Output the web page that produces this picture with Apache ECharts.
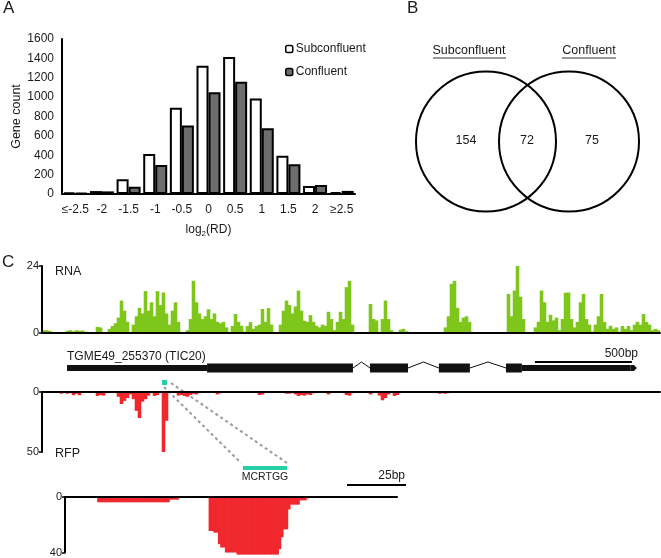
<!DOCTYPE html>
<html><head><meta charset="utf-8">
<script src="https://cdn.jsdelivr.net/npm/echarts@6/dist/echarts.min.js"></script>
<style>html,body{margin:0;padding:0;background:#fff}#c{width:661px;height:558px}</style>
</head><body><div id="c"></div>
<script>
// ---------- Panel A data ----------
const catsA = ['≤-2.5','-2','-1.5','-1','-0.5','0','0.5','1','1.5','2','≥2.5'];
const subconfluent = [15, 30, 152, 412, 890, 1325, 1415, 985, 395, 83, 20];
const confluent = [10, 27, 76, 299, 708, 1050, 1160, 678, 306, 92, 32];
const yTicksA = [0, 1600, 200];

// ---------- Panel B data ----------
const vennSets = ['Subconfluent', 'Confluent'];
const vennCounts = [154, 72, 75]; // only A, both, only B

// ---------- Panel C data ----------
const rnaCoverage = [
 1.0,1.0,0.8,0,0,0,0,0,0.8,1.0,
 0.6,1.0,0.8,0.9,0.5,0,0,0,2.2,2.0,
 0,0,1.5,2.5,3.5,5.5,11.6,8,4,0,
 3,6,9,7,15,8,11,6,15,10,
 14.5,7,3,8,11,4,0.3,0,1,5,
 18.7,11,7,5,6,8.5,5,7,4,3.5,
 4,2,0.3,2.5,6.8,4,2.6,0.5,2.5,3.9,
 1.5,2.5,3,8.6,4,8.9,3,0,0,3,
 8,11.6,10,7,9.5,15.2,8,4.4,4,6.4,
 4,2.6,2,3,2.6,7.6,5,1,4,7.6,
 5,16.4,18.7,3,0,0,0,0,0,10.4,
 5,4.5,0,5,11.6,5,1,0,0,1.2,
 1.5,0.6,0,0,0,0,0,0,0,0,
 0,0,0,0,2,6,17.6,18.7,9,4,
 5.5,6,4,0,0,0,0,0,0,0,
 0,0,0,0,0,14,6,15.2,24,13,
 5,0,0,0,2,4,15.2,11,4,6.5,
 4.5,5.5,1,5,14.4,14.5,5,2,4,11,
 14,5,3,0.5,3,6,14,4,1.5,2.6,
 1.5,2,0.5,2.5,1.5,2.5,1,3,4,3,
 6.8,4,3,1,1.5,1
];
const rfpCoverage = [
 0,0,0,0,0,0,1.4,0.8,1.4,0,
 2.7,1.5,2.7,0,0.8,0,0,0,3.3,2.5,
 3,1,0.5,0,0,4,10,7.4,5,2,
 6,15.7,21.7,8,6,3,0,3.3,2.5,0,
 50,24,0,0,0,3,2.5,3.3,4,2.5,
 1.5,2,0,0,0,0,0,0,2,1,
 0,0,0,0,0,0,0,0,0,0,
 0,0,2.5,2,0.5,0,0,0,0,0,
 0,1.4,1.4,0,2,3.3,2.5,3,2,2.5,
 1,0,0,0,0,2,0,0,0,0,
 0,2.5,3,1,0,0,0,0,0,2,
 0,0,3,6.9,5,2,0,3.3,2.5,0,
 0,0,0,0,0,0,0,0,0,0,
 0,0,1.4,1,1.4,1,0,0,0.8,0.5,
 0,0,0,0,0,0,0,0,0,0,
 0,0,0,0,0,0,0,0,0,0,
 0,0,0,0,0,0,0,0,0,0,
 0,0,0,0,0,0,0,0,0,0,
 0,0,0,0,0,0,0,0,0,0,
 0,0,0,0,0,0,0,0,0,0,
 0,0,0,0,0,0
];
const rfpZoom = [
 0,0,0,0,0,0,0,0,0,0,
 0,0,0,0,3.8,3.8,3.8,3.8,3.8,3.8,
 3.8,3.8,3.8,3.8,3.8,3.8,3.8,3.8,3.8,3.8,
 3.8,3.8,3.8,3.8,3.8,3.8,3.8,3.8,3.8,3.8,
 3.8,3.8,3.8,3.8,3.8,1.9,1.9,1.9,1.9,0,
 0,0,0,0,0,0,0,0,0,0,
 0,0,24.5,24.5,25.7,25.7,34,36.4,36.4,40,
 40,40,40,40,41.5,41.5,41.5,41.5,41.5,41.5,
 41.5,41.5,41.5,41.5,41.5,41.5,41.5,41.5,41.5,41.5,
 41.5,41.5,37.6,29,23.3,23.3,9,5.5,5.5,5.5,
 5.5,2.4,2.4,2.4,1,0,0,0,0,0,
 0,0,0,0,0,0,0,0,0,0,
 0,0,0,0,0,0,0,0,0,0,
 0,0,0,0,0,0,0,0,0,0,
 0,0,0
];
// gene model (bp, track spans 0..3186 bp)
const trackLengthBp = 3186;
const geneUTR = [[129, 851], [2474, 3035]];
const geneCDS = [[851, 1603], [1691, 1887], [2046, 2206], [2392, 2474]];
const geneTip = [3035, 3067];
const scaleBar500 = [2541, 3041];
const geneName = 'TGME49_255370 (TIC20)';
const motifName = 'MCRTGG';

const FONT = '"Liberation Sans", Arial, sans-serif';
const TXT = '#1a1a1a';
const GREEN = '#7fc61c';
const RED = '#f0282d';
const TEAL = '#27cfa6';

const idx = n => Array.from({length: n}, (_, i) => String(i));

// gene items: [start, end, kind]
const geneItems = [];
geneUTR.forEach(d => geneItems.push([d[0], d[1], 0]));
geneCDS.forEach(d => geneItems.push([d[0], d[1], 1]));
for (let i = 0; i < geneCDS.length - 1; i++) geneItems.push([geneCDS[i][1], geneCDS[i + 1][0], 2]);
geneItems.push([geneTip[0], geneTip[1], 3]);
geneItems.push([scaleBar500[0], scaleBar500[1], 4]);

const chart = echarts.init(document.getElementById('c'), null, {renderer: 'canvas'});

const blackLine = {show: true, lineStyle: {color: '#000', width: 2}};
const trackY = (max) => ({
  type: 'value', min: 0, max: max, interval: max,
  axisLine: {show: true, onZero: false, lineStyle: {color: '#000', width: 2}},
  axisTick: {show: true, length: 3, lineStyle: {color: '#000', width: 1.5}},
  axisLabel: {fontSize: 11, color: TXT, margin: 3, fontFamily: FONT},
  splitLine: {show: false}, z: 10
});
const trackX = (n, pos) => ({
  type: 'category', position: pos, data: idx(n), z: 10,
  axisLine: {show: true, onZero: false, lineStyle: {color: '#000', width: 2}},
  axisTick: {show: false}, axisLabel: {show: false}
});

const vennText = {fontSize: 12.5, fill: TXT, fontFamily: FONT};

chart.setOption({
  animation: false,
  backgroundColor: '#fff',
  textStyle: {fontFamily: FONT},
  grid: [
    {left: 62, top: 39, width: 293, height: 155},
    {left: 42, top: 266, width: 618, height: 67},
    {left: 42, top: 358, width: 618, height: 20},
    {left: 42, top: 392, width: 618, height: 60},
    {left: 65, top: 497, width: 332, height: 56}
  ],
  legend: {
    data: ['Subconfluent', 'Confluent'],
    orient: 'vertical', left: 285, top: 43, padding: 0,
    itemWidth: 7, itemHeight: 7, itemGap: 11,
    textStyle: {fontSize: 12, color: TXT, fontFamily: FONT, padding: [0, 0, 0, -2]},
    itemStyle: {borderColor: '#000', borderWidth: 1.5}
  },
  xAxis: [
    {type: 'category', gridIndex: 0, data: catsA,
     axisLine: blackLine, axisTick: {show: false},
     axisLabel: {fontSize: 12, color: TXT, margin: 10, fontFamily: FONT, interval: 0},
     name: '{a|log}{s|2}{a|(RD)}', nameLocation: 'middle', nameGap: 30,
     nameTextStyle: {rich: {
       a: {fontSize: 12, color: TXT, fontFamily: FONT, lineHeight: 14, verticalAlign: 'top'},
       s: {fontSize: 8, color: TXT, fontFamily: FONT, lineHeight: 8, verticalAlign: 'bottom'}
     }}},
    Object.assign({gridIndex: 1}, trackX(rnaCoverage.length, 'bottom')),
    {type: 'value', gridIndex: 2, min: 0, max: trackLengthBp, show: false},
    Object.assign({gridIndex: 3}, trackX(rfpCoverage.length, 'top')),
    Object.assign({gridIndex: 4}, trackX(rfpZoom.length, 'top'))
  ],
  yAxis: [
    {type: 'value', gridIndex: 0, min: yTicksA[0], max: yTicksA[1], interval: yTicksA[2],
     axisLine: blackLine, axisTick: {show: false}, splitLine: {show: false},
     axisLabel: {fontSize: 12, color: TXT, margin: 8, fontFamily: FONT, formatter: v => String(v)},
     name: 'Gene count', nameLocation: 'middle', nameGap: 35,
     nameTextStyle: {fontSize: 12.5, color: TXT, fontFamily: FONT}},
    Object.assign({gridIndex: 1}, trackY(24)),
    {type: 'value', gridIndex: 2, min: 0, max: 1, show: false},
    Object.assign({gridIndex: 3, inverse: true}, trackY(50)),
    Object.assign({gridIndex: 4, inverse: true}, trackY(40))
  ],
  series: [
    {type: 'bar', name: 'Subconfluent', xAxisIndex: 0, yAxisIndex: 0, data: subconfluent,
     barWidth: 12, barGap: '0%',
     itemStyle: {color: '#ffffff', borderColor: '#000', borderWidth: 2}},
    {type: 'bar', name: 'Confluent', xAxisIndex: 0, yAxisIndex: 0, data: confluent,
     barWidth: 12, barGap: '0%',
     itemStyle: {color: '#6d6d6d', borderColor: '#000', borderWidth: 2}},
    {type: 'bar', name: 'RNA', xAxisIndex: 1, yAxisIndex: 1, data: rnaCoverage,
     barWidth: 3.6, itemStyle: {color: GREEN}, z: 1},
    {type: 'custom', name: 'gene', xAxisIndex: 2, yAxisIndex: 2, data: geneItems,
     renderItem: function (params, api) {
       const kind = api.value(2);
       const s = api.coord([api.value(0), 0.5]);
       const e = api.coord([api.value(1), 0.5]);
       const y = s[1];
       if (kind === 0) return {type: 'rect', shape: {x: s[0], y: y - 3, width: e[0] - s[0], height: 6}, style: {fill: '#111'}};
       if (kind === 1) return {type: 'rect', shape: {x: s[0], y: y - 4.5, width: e[0] - s[0], height: 9}, style: {fill: '#111'}};
       if (kind === 2) return {type: 'polyline', shape: {points: [[s[0], y], [(s[0] + e[0]) / 2, y - 6], [e[0], y]]}, style: {stroke: '#111', lineWidth: 1, fill: null}};
       if (kind === 3) return {type: 'polygon', shape: {points: [[s[0], y - 3], [e[0] - 3, y - 3], [e[0], y], [e[0] - 3, y + 3], [s[0], y + 3]]}, style: {fill: '#111'}};
       const sb = api.coord([api.value(0), 0.8]);
       const eb = api.coord([api.value(1), 0.8]);
       return {type: 'line', shape: {x1: sb[0], y1: sb[1], x2: eb[0], y2: eb[1]}, style: {stroke: '#000', lineWidth: 2}};
     }},
    {type: 'bar', name: 'RFP', xAxisIndex: 3, yAxisIndex: 3, data: rfpCoverage,
     barWidth: 3.6, itemStyle: {color: RED}, z: 1},
    {type: 'bar', name: 'RFP zoom', xAxisIndex: 4, yAxisIndex: 4, data: rfpZoom,
     barWidth: 3, clip: false, itemStyle: {color: RED}, z: 1}
  ],
  graphic: [
    {type: 'text', left: 3, top: 0, style: {text: 'A', fontSize: 17, fill: TXT, fontFamily: FONT}},
    {type: 'text', left: 407, top: 0, style: {text: 'B', fontSize: 17, fill: TXT, fontFamily: FONT}},
    {type: 'text', left: 2, top: 254, style: {text: 'C', fontSize: 17, fill: TXT, fontFamily: FONT}},
    // Venn
    {type: 'circle', shape: {cx: 486, cy: 141.5, r: 70}, style: {fill: 'none', stroke: '#000', lineWidth: 2}},
    {type: 'circle', shape: {cx: 569, cy: 141.5, r: 70}, style: {fill: 'none', stroke: '#000', lineWidth: 2}},
    {type: 'text', x: 469, y: 51, style: Object.assign({text: vennSets[0], align: 'center', verticalAlign: 'middle'}, vennText)},
    {type: 'line', shape: {x1: 433, y1: 58, x2: 506, y2: 58}, style: {stroke: '#333', lineWidth: 1}},
    {type: 'text', x: 589, y: 51, style: Object.assign({text: vennSets[1], align: 'center', verticalAlign: 'middle'}, vennText)},
    {type: 'line', shape: {x1: 562, y1: 58, x2: 616, y2: 58}, style: {stroke: '#333', lineWidth: 1}},
    {type: 'text', x: 466, y: 141, style: Object.assign({text: String(vennCounts[0]), align: 'center', verticalAlign: 'middle'}, vennText)},
    {type: 'text', x: 527, y: 141, style: Object.assign({text: String(vennCounts[1]), align: 'center', verticalAlign: 'middle'}, vennText)},
    {type: 'text', x: 592, y: 141, style: Object.assign({text: String(vennCounts[2]), align: 'center', verticalAlign: 'middle'}, vennText)},
    // track labels
    {type: 'text', x: 55, y: 272, style: {text: 'RNA', fontSize: 12.5, fill: TXT, fontFamily: FONT, verticalAlign: 'middle'}},
    {type: 'text', x: 55, y: 454, style: {text: 'RFP', fontSize: 12.5, fill: TXT, fontFamily: FONT, verticalAlign: 'middle'}},
    {type: 'text', x: 67, y: 357, style: {text: geneName, fontSize: 12, fill: TXT, fontFamily: FONT, verticalAlign: 'middle'}},
    {type: 'text', x: 638, y: 354, style: {text: '500bp', fontSize: 12, fill: TXT, fontFamily: FONT, align: 'right', verticalAlign: 'middle'}},
    // zoom annotation
    {type: 'line', shape: {x1: 164, y1: 387, x2: 241, y2: 463}, style: {stroke: '#9b9b9b', lineWidth: 2, lineDash: [3, 3]}},
    {type: 'line', shape: {x1: 171, y1: 383, x2: 287, y2: 463}, style: {stroke: '#9b9b9b', lineWidth: 2, lineDash: [3, 3]}},
    {type: 'rect', shape: {x: 162, y: 380, width: 5, height: 5}, style: {fill: TEAL}, z: 10},
    {type: 'rect', shape: {x: 243, y: 466, width: 44, height: 4}, style: {fill: TEAL}, z: 10},
    {type: 'text', x: 265, y: 477, style: {text: motifName, fontSize: 10.5, fill: TXT, fontFamily: FONT, align: 'center', verticalAlign: 'middle'}},
    {type: 'text', x: 405, y: 476, style: {text: '25bp', fontSize: 12, fill: TXT, fontFamily: FONT, align: 'right', verticalAlign: 'middle'}},
    {type: 'line', shape: {x1: 347, y1: 485, x2: 406, y2: 485}, style: {stroke: '#000', lineWidth: 2}}
  ]
});
</script></body></html>
